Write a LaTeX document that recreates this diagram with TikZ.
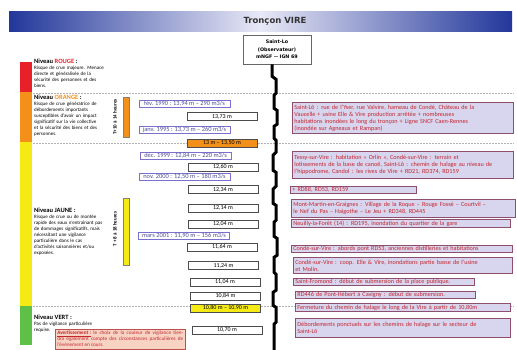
\documentclass[tikz,border=0pt]{standalone}
\usepackage{fontspec}
\setmainfont{Carlito}
\newfontfamily\verdana{DejaVu Sans}
\usetikzlibrary{positioning}

\definecolor{barblue}{HTML}{22379A}
\definecolor{barlight}{HTML}{E8E8F6}
\definecolor{rouge}{HTML}{E8202A}
\definecolor{orangeniv}{HTML}{F39019}
\definecolor{jaune}{HTML}{F5EA14}
\definecolor{vert}{HTML}{5FBF46}
\definecolor{histblue}{HTML}{7B6FCF}
\definecolor{histtext}{HTML}{4E4E9A}
\definecolor{impactfill}{HTML}{D8D5EE}
\definecolor{impactborder}{HTML}{8E4F6E}
\definecolor{impactred}{HTML}{C4262E}
\definecolor{avertfill}{HTML}{F8D3C4}
\definecolor{avertborder}{HTML}{C0504D}

\begin{document}
\begin{tikzpicture}[x=1pt, y=-1pt,
    % Styles
    leveltext/.style={anchor=north west, inner sep=0pt, text width=76pt, align=left, font=\fontsize{5}{6}\selectfont},
    histbox/.style={draw=histblue, fill=white, text=histtext, line width=0.6pt, minimum width=91pt, minimum height=7pt, inner sep=0pt, font=\fontsize{6.4}{6.5}\selectfont},
    mesbox/.style={draw=black!70, fill=white, line width=0.6pt, minimum width=70pt, minimum height=8pt, inner sep=0pt, font=\fontsize{6}{6.5}\selectfont},
    impact/.style={draw=impactborder, fill=impactfill, text=impactred, line width=0.8pt, anchor=north west, inner sep=2pt, align=left, font=\fontsize{6.2}{7}\selectfont},
    delay/.style={rotate=90, font=\bfseries\fontsize{5}{6}\selectfont},
    levelline/.style={gray!60, dash pattern=on 2pt off 1pt, line width=0.5pt},
    riverline/.style={line width=3pt, line join=miter},
]
\useasboundingbox (0,0) rectangle (517,349);
\clip (0,0) rectangle (517,349);
\fill[white] (0,0) rectangle (517,349);

% Title
\shade[left color=barblue, right color=barblue, middle color=barlight] (9,11) rectangle (512,31);
\node[font=\verdana\bfseries\fontsize{8.5}{10}\selectfont, text=black!80] (title) at (275,21) {Tronçon VIRE};

% Observation point
\node[draw=black!60, fill=white, line width=0.6pt, minimum width=68pt, minimum height=29pt, inner sep=1pt, align=center,
      font=\verdana\bfseries\fontsize{4.8}{7.5}\selectfont] (saintlo) at (277,49.5) {Saint-Lo\\(Observateur)\\mNGF -- IGN 69};

% Vigilance colour scale
\fill[rouge] (20,62) rectangle (32,92);
\fill[orangeniv] (20,92) rectangle (32,142);
\fill[jaune] (20,142) rectangle (32,306);
\fill[vert] (20,306) rectangle (32,345);

% Level limits
\draw[levelline] (33,93) -- (514,93);
\draw[levelline] (33,143) -- (514,143);
\draw[levelline] (33,306) -- (514,306);

% Level descriptions
\node[leveltext] (rougetxt) at (34,59) {{\fontsize{6.5}{7}\selectfont\bfseries Niveau \textcolor{rouge}{ROUGE} :}\\
    Risque de crue majeure. Menace\\directe et généralisée de la\\sécurité des personnes et des\\biens.};
\node[leveltext] (orangetxt) at (34,95) {{\fontsize{6.5}{7}\selectfont\bfseries Niveau \textcolor{orangeniv}{ORANGE} :}\\
    Risque de crue génératrice de\\débordements importants\\susceptibles d'avoir un impact\\significatif sur la vie collective\\et la sécurité des biens et des\\personnes.};
\node[leveltext] (jaunetxt) at (34,208) {{\fontsize{6.5}{7}\selectfont\bfseries Niveau JAUNE :}\\
    Risque de crue ou de montée\\rapide des eaux n'entraînant pas\\de dommages significatifs, mais\\nécessitant une vigilance\\particulière dans le cas\\d'activités saisonnières et/ou\\exposées.};
\node[leveltext] (verttxt) at (34,315) {{\fontsize{6.5}{7}\selectfont\bfseries Niveau VERT :}\\
    Pas de vigilance particulière\\requise.};

% Warning
\node[draw=avertborder, fill=avertfill, text=impactred, line width=0.6pt, anchor=north west, inner sep=2pt,
      text width=126pt, align=justify, font=\fontsize{5.2}{6}\selectfont] (avert) at (55,329)
    {\textbf{\underline{Avertissement :}} le choix de la couleur de vigilance tiendra également compte des circonstances particulières de l'évènement en cours.};

% Forecast delays
\filldraw[fill=orangeniv, draw=black!50, line width=0.3pt] (123,97) rectangle (129,137);
\node[delay] (delayorange) at (115,117) {T+10 à 14 heures};
\filldraw[fill=jaune, draw=black!50, line width=0.3pt] (123,198) rectangle (129,265);
\node[delay] (delayjaune) at (115,229) {T + 8 à 18 heures};

% Historic floods
\node[histbox] (h1990) at (184.5,104) {fév. 1990 : 13,94 m -- 290 m3/s};
\node[histbox] (h1995) at (184.5,130) {janv. 1995 : 13,73 m -- 260 m3/s};
\node[histbox] (h1999) at (185.5,156) {déc. 1999 : 12,84 m -- 220 m3/s};
\node[histbox] (h2000) at (184.5,177) {nov. 2000 : 12,50 m -- 180 m3/s};
\node[histbox] (h2001) at (184,235.5) {mars 2001 : 11,90 m -- 156 m3/s};

% Water levels
\node[mesbox] (m1373) at (222,116.5) {13,73 m};
\node[mesbox, fill=orangeniv] (m1300) at (222,143) {13 m -- 13,50 m};
\node[mesbox] (m1260) at (223,167) {12,60 m};
\node[mesbox] (m1234) at (223,189.5) {12,34 m};
\node[mesbox] (m1214) at (223,208) {12,14 m};
\node[mesbox] (m1204) at (223,224) {12,04 m};
\node[mesbox] (m1164) at (222,247) {11,64 m};
\node[mesbox] (m1124) at (223.5,265.5) {11,24 m};
\node[mesbox] (m1104) at (225,282) {11,04 m};
\node[mesbox] (m1084) at (225.5,296) {10,84 m};
\node[mesbox, fill=jaune] (m1080) at (225.5,308) {10,80 m -- 10,90 m};
\node[mesbox] (m1070) at (227,330) {10,70 m};

% River axis
\draw[riverline] (saintlo.south) ++(-5,0) -- ++(0,12) -- ++(4,3) -- ++(0,14) -- ++(-2,2) -- ++(0,13)
    -- ++(3,2) -- ++(0,14) -- ++(-3,2) -- ++(0,12) -- ++(2,2) -- ++(0,12) -- ++(-3,3) -- ++(0,15)
    -- ++(3,2) -- ++(0,14) -- ++(-3,3) -- ++(0,14) -- ++(3,2) -- ++(0,15) -- ++(-2,2) -- ++(0,14)
    -- ++(3,2) -- ++(0,17) -- ++(-3,2) -- ++(0,15) -- ++(2,2) -- ++(0,16) -- ++(-3,2) -- ++(0,13)
    -- ++(3,2) -- ++(0,15) -- ++(-2,2) -- ++(0,26);

% Impacts
\node[impact, minimum width=221pt, minimum height=31pt, text width=217pt] (imp1) at (292,102)
    {Saint-Lô : rue de l'Yser, rue Valvire, hameau de Condé, Château de la\\Vaucelle + usine Elle \& Vire production arrêtée + nombreuses\\habitations inondées le long du tronçon + Ligne SNCF Caen-Rennes\\(inondée sur Agneaux et Rampan)};
\node[impact, minimum width=221pt, minimum height=27pt, text width=217pt] (imp2) at (292,151)
    {Tessy-sur-Vire : habitation « Orlin », Condé-sur-Vire : terrain et\\lotissements de la base de canoë, Saint-Lô : chemin de halage au niveau de\\l'hippodrome, Candol : les rives de Vire + RD21, RD374, RD159};
\node[impact, minimum width=126pt, minimum height=7pt, text width=122pt, inner ysep=0pt] (imp3) at (290,186)
    {+ RD88, RD53, RD159};
\node[impact, minimum width=224pt, minimum height=18pt, text width=220pt] (imp4) at (291,199)
    {Mont-Martin-en-Graignes : Village de la Roque -- Rouge Fossé -- Courtvil --\\le Nef du Pas -- Haigothe -- Le Jeu + RD348, RD445};
\node[impact, minimum width=219pt, minimum height=8pt, text width=215pt, inner ysep=0pt] (imp5) at (291,219)
    {Neuilly-la-Forêt (14) : RD195, inondation du quartier de la gare};
\node[impact, minimum width=221pt, minimum height=7pt, text width=217pt, inner ysep=0pt] (imp6) at (291,245)
    {Condé-sur-Vire : abords pont RD53, anciennes distilleries et habitations};
\node[impact, minimum width=219pt, minimum height=16pt, text width=215pt] (imp7) at (293,257)
    {Condé-sur-Vire : coop. Elle \& Vire, inondations partie basse de l'usine\\et Molin.};
\node[impact, minimum width=181pt, minimum height=7pt, text width=177pt, inner ysep=0pt] (imp8) at (293,278)
    {Saint-Fromond : début de submersion de la place publique.};
\node[impact, minimum width=180pt, minimum height=7pt, text width=176pt, inner ysep=0pt] (imp9) at (295,291)
    {RD446 de Pont-Hébert à Cavigny : début de submersion.};
\node[impact, minimum width=215pt, minimum height=8pt, text width=211pt, inner ysep=0pt] (imp10) at (295,303)
    {Fermeture du chemin de halage le long de la Vire à partir de 10,80m};
\node[impact, minimum width=215pt, minimum height=19pt, text width=211pt] (imp11) at (295,318)
    {Débordements ponctuels sur les chemins de halage sur le secteur de\\Saint-Lô};

\end{tikzpicture}
\end{document}
